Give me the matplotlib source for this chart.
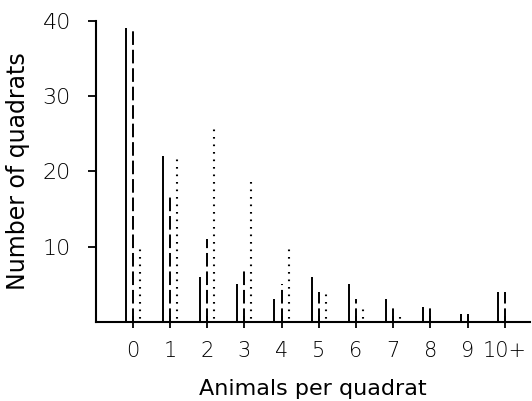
import matplotlib.pyplot as plt
import numpy as np

# data
categorias = ['0', '1', '2', '3', '4', '5', '6', '7', '8', '9', '10+']
observado = [39, 22, 6, 5, 3, 6, 5, 3, 2, 1, 4]
binomial_neg = [39, 17, 11, 7, 5, 4, 3, 2, 2, 1, 4]
poisson = [10, 22, 26, 19, 10, 4, 2, 1, 0, 0, 0]

plt.rcParams['font.family'] = 'DejaVu Sans'

fig = plt.figure(figsize=(5.32, 4.01), dpi=100)
ax = fig.add_axes([0.180, 0.197, 0.816, 0.751])

x = np.arange(len(categorias))
off = 0.19

ax.vlines(x - off, 0, observado, colors='black', linewidth=1.4)
ax.vlines(x, 0, binomial_neg, colors='black', linewidth=1.4,
          linestyles=(0, (7, 2.5)))
ax.vlines(x + off, 0, poisson, colors='black', linewidth=1.5,
          linestyles=(2, (0.8, 2.8)))

ax.set_xlim(-0.99, 10.67)
ax.set_ylim(0, 40)
ax.set_xticks(x)
ax.set_xticklabels(categorias, fontsize=15, fontweight='light')
ax.set_yticks([10, 20, 30, 40])
ax.set_yticklabels(['10', '20', '30', '40'], fontsize=16, fontweight='light')

for s in ['top', 'right']:
    ax.spines[s].set_visible(False)
ax.spines['left'].set_linewidth(1.5)
ax.spines['bottom'].set_linewidth(1.5)

ax.tick_params(axis='y', direction='out', length=6, width=1.3, pad=12)
ax.tick_params(axis='x', direction='inout', length=9, width=1.3, pad=9)

ax.set_xlabel('Animals per quadrat', fontsize=16, labelpad=13)
ax.set_ylabel('Number of quadrats', fontsize=17, labelpad=9)

fig.savefig('out.png', dpi=100)
